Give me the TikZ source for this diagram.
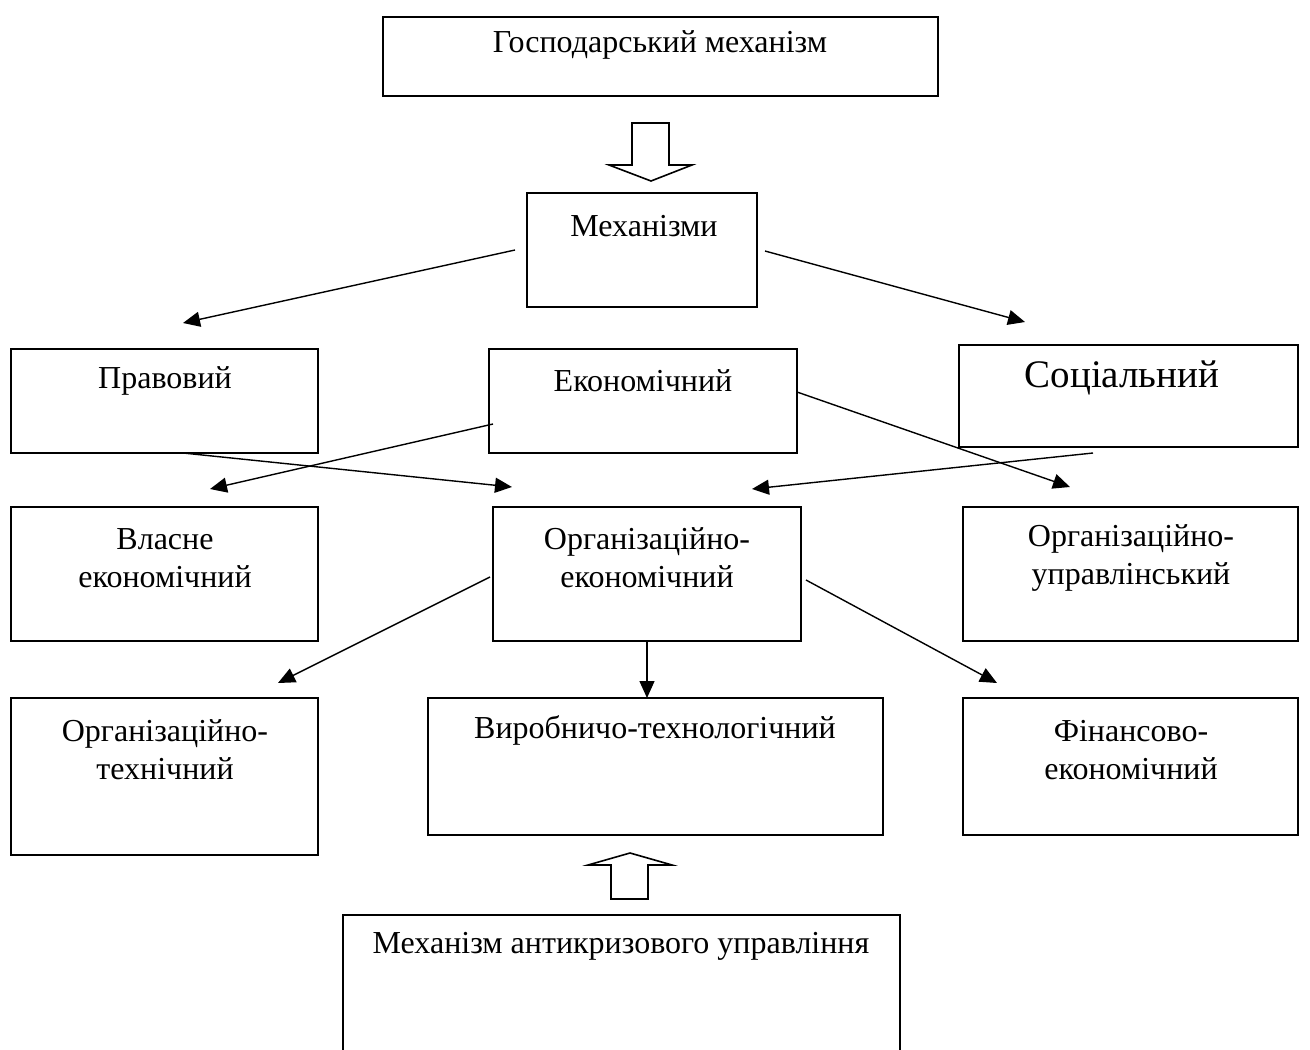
\documentclass[tikz,border=0pt]{standalone}
\usepackage{fontspec}
\setmainfont{Liberation Serif}
\usetikzlibrary{arrows.meta,calc}
\begin{document}
\begin{tikzpicture}[x=1pt,y=-1pt,
 box/.style={draw, line width=1.6pt, inner sep=0pt, outer sep=0pt},
 txt/.style={inner sep=0pt, align=center, font=\fontsize{32}{38}\selectfont},
 bigtxt/.style={inner sep=0pt, align=center, font=\fontsize{39}{46}\selectfont},
 arr/.style={line width=1.4pt, -{Triangle[length=17pt,width=15pt]}},
 hollow/.style={draw, line width=1.6pt, fill=white, line join=miter}]
\useasboundingbox[fill=white] (0,0) rectangle (1310,1050);

% boxes
\node[box, minimum width=555pt, minimum height=79pt] (gm) at (660.5,56.5) {};
\node[box, minimum width=230pt, minimum height=114pt] (mech) at (642,250) {};
\node[box, minimum width=307pt, minimum height=104pt] (prav) at (164.5,401) {};
\node[box, minimum width=308pt, minimum height=104pt] (econ) at (643,401) {};
\node[box, minimum width=339pt, minimum height=102pt] (soc) at (1128.5,396) {};
\node[box, minimum width=307pt, minimum height=134pt] (vlas) at (164.5,574) {};
\node[box, minimum width=308pt, minimum height=134pt] (orgek) at (647,574) {};
\node[box, minimum width=335pt, minimum height=134pt] (orgupr) at (1130.5,574) {};
\node[box, minimum width=307pt, minimum height=157pt] (orgteh) at (164.5,776.5) {};
\node[box, minimum width=455pt, minimum height=137pt] (vyr) at (655.5,766.5) {};
\node[box, minimum width=335pt, minimum height=137pt] (fin) at (1130.5,766.5) {};
\node[inner sep=0pt, outer sep=0pt, minimum width=557pt, minimum height=135pt] (anti) at (621.5,982.5) {};
\draw[line width=1.6pt] (anti.south west) -- (anti.north west) -- (anti.north east) -- (anti.south east);

% texts
\node[txt] (gmt) at (660,45) {Господарський механізм};
\node[txt] (mecht) at (644,226) {Механізми};
\node[txt] (pravt) at (165,381) {Правовий};
\node[txt] (econt) at (643,381) {Економічний};
\node[bigtxt] (soct) at (1122,378) {Соціальний};
\node[txt] (vlast) at (165,558) {Власне\\економічний};
\node[txt] (orgekt) at (647,558) {Організаційно-\\економічний};
\node[txt] (orguprt) at (1131,558) {Організаційно-\\управлінський};
\node[txt] (orgteht) at (165,750) {Організаційно-\\технічний};
\node[txt] (vyrt) at (655,730) {Виробничо-технологічний};
\node[txt] (fint) at (1131,750) {Фінансово-\\економічний};
\node[txt] (antit) at (621,946) {Механізм антикризового управління};

% hollow arrows
\draw[hollow] (632,123) -- (669,123) -- (669,165) -- (692,165) -- (651,181) -- (609,165) -- (632,165) -- cycle;
\draw[hollow] (611,899) -- (648,899) -- (648,865) -- (672,865) -- (630,853) -- (588,865) -- (611,865) -- cycle;

% connectors
\draw[arr] ($(mech.west)+(-12,0)$) -- ($(prav.north)+(18.5,-26)$);
\draw[arr] ($(mech.east)+(8,1)$) -- ($(soc.north)+(-103.5,-23)$);
\draw[arr] ($(prav.south)+(18.5,0)$) -- ($(orgek.north west)+(19,-20)$);
\draw[arr] ($(econ.south west)+(4,-29)$) -- ($(vlas.north)+(45.5,-18)$);
\draw[arr] ($(econ.east)+(0,-9)$) -- ($(orgupr.north)+(-60.5,-20)$);
\draw[arr] ($(soc.south)+(-35.5,6)$) -- ($(orgek.north)+(105,-18)$);
\draw[arr] ($(orgek.west)+(-3,3)$) -- ($(orgteh.north)+(113.5,-15)$);
\draw[arr] (orgek.south) -- (orgek.south |- vyr.north);
\draw[arr] ($(orgek.east)+(5,6)$) -- ($(fin.north)+(-133.5,-15)$);
\end{tikzpicture}
\end{document}
